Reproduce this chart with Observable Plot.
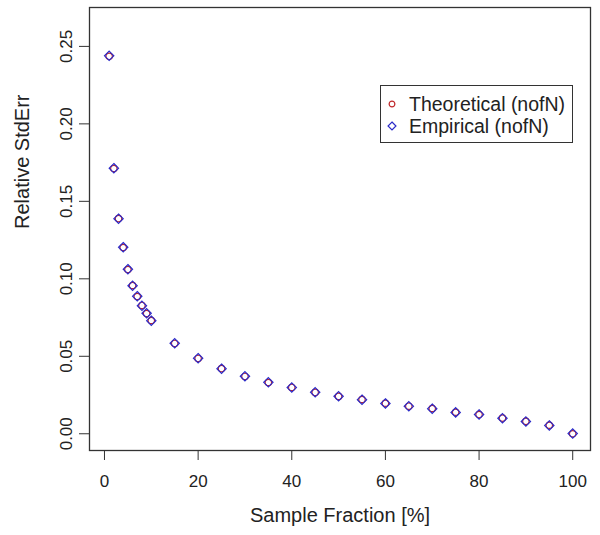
<!DOCTYPE html>
<html>
<head>
<meta charset="utf-8">
<script src="https://cdn.jsdelivr.net/npm/d3@7"></script>
<script src="https://cdn.jsdelivr.net/npm/@observablehq/plot@0.6"></script>
<style>
  html, body { margin: 0; padding: 0; background: #fff; }
  #wrap { position: relative; width: 600px; height: 535px; font-family: "Liberation Sans", Arial, sans-serif; }
  #legend { position: absolute; left: 380px; top: 85px; width: 191px; height: 56px; border: 1px solid #333; background: #fff; }
  #legend .row { position: absolute; left: 0; height: 22px; line-height: 22px; font-size: 19.5px; color: #222; white-space: nowrap; }
  #legend svg { position: absolute; left: 4px; top: 4px; }
  #legend span { position: absolute; left: 28px; top: 0; }
</style>
</head>
<body>
<div id="wrap"></div>
<script>
// Sample fraction (%)
const fractions = [1,2,3,4,5,6,7,8,9,10,15,20,25,30,35,40,45,50,55,60,65,70,75,80,85,90,95,100];
// Theoretical relative standard error (nofN)
const theoretical = [0.2436,0.1712,0.1389,0.1202,0.1060,0.0957,0.0886,0.0828,0.0776,0.0731,0.0583,0.0486,0.0421,0.0370,0.0331,0.0299,0.0267,0.0241,0.0221,0.0197,0.0178,0.0163,0.0139,0.0124,0.0101,0.0080,0.0055,0.0000];
// Empirical relative standard error (nofN)
const empirical = [0.2439,0.1714,0.1388,0.1204,0.1062,0.0955,0.0888,0.0826,0.0778,0.0730,0.0584,0.0488,0.0420,0.0371,0.0332,0.0298,0.0268,0.0242,0.0220,0.0196,0.0177,0.0162,0.0138,0.0125,0.0100,0.0079,0.0054,0.0001];
const xTicks = [0,20,40,60,80,100];
const yTicks = [0,0.05,0.10,0.15,0.20,0.25];
const seriesNames = ["Theoretical (nofN)", "Empirical (nofN)"];
const colors = ["#c0282a", "#2b2bc8"];
const xLabel = "Sample Fraction [%]";
const yLabel = "Relative StdErr";

const theo = fractions.map((f, i) => ({f, v: theoretical[i]}));
const emp = fractions.map((f, i) => ({f, v: empirical[i]}));

const chart = Plot.plot({
  width: 600,
  height: 535,
  marginLeft: 89,
  marginRight: 10,
  marginTop: 7,
  marginBottom: 85,
  style: {fontFamily: "'Liberation Sans', Arial, sans-serif", color: "#222", background: "#fff"},
  x: {domain: [-3.2, 103.8]},
  y: {domain: [-0.0108, 0.2751]},
  marks: [
    Plot.frame({stroke: "#333", strokeWidth: 1.3}),
    Plot.axisX({ticks: xTicks, tickSize: 10, tickPadding: 14, fontSize: 17, label: null, tickFormat: d3.format("d"), stroke: "#333"}),
    Plot.axisY({ticks: yTicks, tickSize: 10, tickPadding: 8, fontSize: 17, label: null, tickRotate: -90, tickFormat: d3.format(".2f"), stroke: "#333"}),
    Plot.text([xLabel], {frameAnchor: "bottom", dy: 71, fontSize: 20, fill: "#222"}),
    Plot.text([yLabel], {frameAnchor: "left", dx: -67, rotate: -90, fontSize: 20, fill: "#222"}),
    Plot.dot(theo, {x: "f", y: "v", r: 3.2, stroke: colors[0], fill: "none", strokeWidth: 1.2}),
    Plot.dot(emp, {x: "f", y: "v", symbol: "diamond2", r: 4.2, stroke: colors[1], fill: "none", strokeWidth: 1.2})
  ]
});
const wrap = document.getElementById("wrap");
wrap.appendChild(chart);

// Legend (R-style boxed legend inside the plot)
const legend = document.createElement("div");
legend.id = "legend";
const symbols = ["circle", "diamond2"];
seriesNames.forEach((name, i) => {
  const row = document.createElement("div");
  row.className = "row";
  row.style.top = (7 + i * 22) + "px";
  const sym = d3.create("svg").attr("width", 14).attr("height", 14);
  sym.append("path")
    .attr("transform", "translate(7,7)")
    .attr("d", d3.symbol(i === 0 ? d3.symbolCircle : d3.symbolDiamond2, i === 0 ? 26 : 40)())
    .attr("fill", "none").attr("stroke", colors[i]).attr("stroke-width", 1.2);
  row.appendChild(sym.node());
  const span = document.createElement("span");
  span.textContent = name;
  row.appendChild(span);
  legend.appendChild(row);
});
wrap.appendChild(legend);
</script>
</body>
</html>
